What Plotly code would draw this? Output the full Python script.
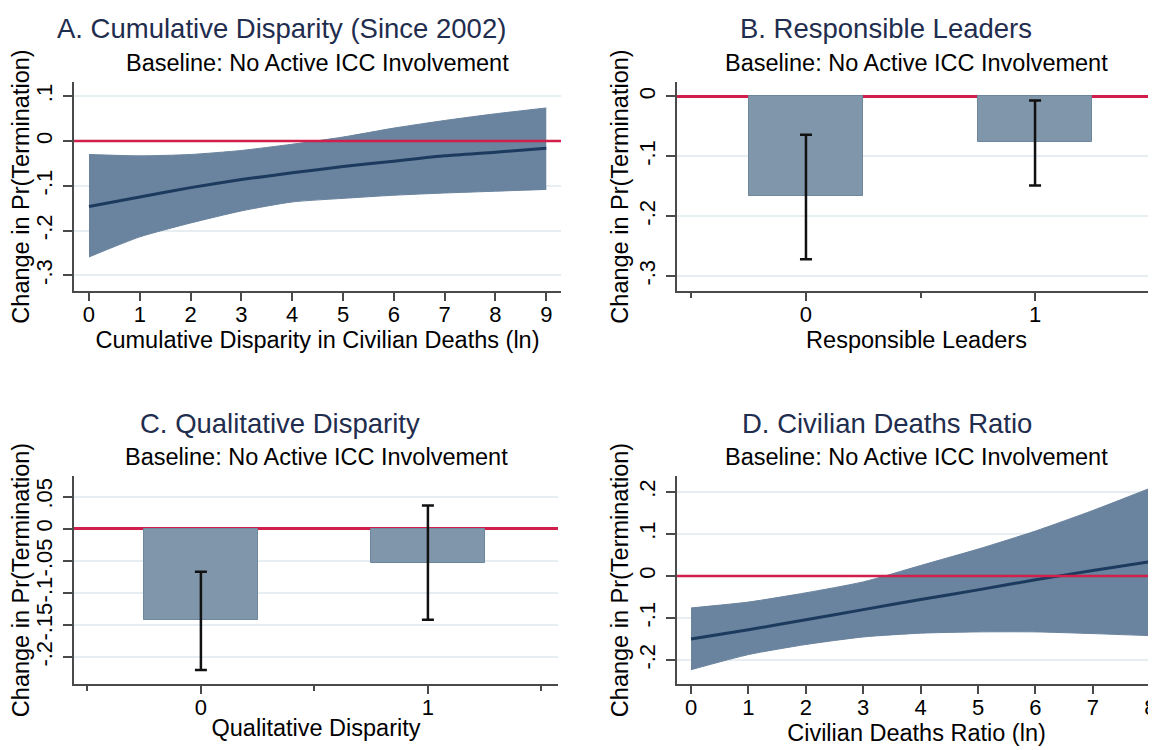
import plotly.graph_objects as go

# ---------------- data ----------------
a_x = [0, 1, 2, 3, 4, 5, 6, 7, 8, 9]
a_mean = [-0.146, -0.125, -0.104, -0.086, -0.071, -0.057, -0.045, -0.033, -0.025, -0.016]
a_upper = [-0.030, -0.033, -0.030, -0.021, -0.007, 0.009, 0.029, 0.046, 0.061, 0.074]
a_lower = [-0.259, -0.214, -0.183, -0.156, -0.136, -0.128, -0.121, -0.116, -0.112, -0.108]

b_cats = [0, 1]
b_vals = [-0.167, -0.076]
b_lo = [-0.272, -0.149]
b_hi = [-0.064, -0.007]

c_cats = [0, 1]
c_vals = [-0.143, -0.053]
c_lo = [-0.220, -0.142]
c_hi = [-0.067, 0.036]

d_x = [0, 1, 2, 3, 4, 5, 6, 7, 8]
d_mean = [-0.150, -0.128, -0.104, -0.080, -0.056, -0.033, -0.009, 0.013, 0.034]
d_upper = [-0.076, -0.062, -0.040, -0.014, 0.025, 0.064, 0.107, 0.156, 0.209]
d_lower = [-0.223, -0.187, -0.163, -0.145, -0.136, -0.133, -0.133, -0.137, -0.142]

a_yt = [-0.3, -0.2, -0.1, 0, 0.1]
a_ylab = ["-.3", "-.2", "-.1", "0", ".1"]
b_yt = [-0.3, -0.2, -0.1, 0]
b_ylab = ["-.3", "-.2", "-.1", "0"]
c_yt = [-0.2, -0.15, -0.1, -0.05, 0, 0.05]
c_ylab = ["-.2", "-.15", "-.1", "-.05", "0", ".05"]
d_yt = [-0.2, -0.1, 0, 0.1, 0.2]
d_ylab = ["-.2", "-.1", "0", ".1", ".2"]

titles = ["A. Cumulative Disparity (Since 2002)", "B. Responsible Leaders",
          "C. Qualitative Disparity", "D. Civilian Deaths Ratio"]
subtitle = "Baseline: No Active ICC Involvement"
xtitles = ["Cumulative Disparity in Civilian Deaths (ln)", "Responsible Leaders",
           "Qualitative Disparity", "Civilian Deaths Ratio (ln)"]
ytitle = "Change in Pr(Termination)"

# ---------------- style ----------------
FONT = "Liberation Sans, Arial, Helvetica, sans-serif"
BAND = "#6a839e"
LINE = "#1b3a5e"
BAR = "#8096ab"
BAR_EDGE = "#6f879c"
ZERO = "#cf1f4a"
GRID = "#e6eef2"
AX = "#4a4a4a"
NAVY = "#1f2d4e"

fig = go.Figure()

def band(xs, lo, hi, mean, xa, ya):
    fig.add_trace(go.Scatter(x=xs, y=lo, mode="lines", line=dict(color=BAND, width=1, shape="spline", smoothing=0.6),
                             xaxis=xa, yaxis=ya, showlegend=False, hoverinfo="skip"))
    fig.add_trace(go.Scatter(x=xs, y=hi, mode="lines", fill="tonexty", fillcolor=BAND,
                             line=dict(color=BAND, width=1, shape="spline", smoothing=0.6),
                             xaxis=xa, yaxis=ya, showlegend=False, hoverinfo="skip"))
    fig.add_trace(go.Scatter(x=xs, y=mean, mode="lines", line=dict(color=LINE, width=3, shape="spline", smoothing=0.6),
                             xaxis=xa, yaxis=ya, showlegend=False))

def bars(cats, vals, lo, hi, xa, ya):
    fig.add_trace(go.Bar(x=cats, y=vals, width=0.5, marker=dict(color=BAR, line=dict(color=BAR_EDGE, width=1)),
                         error_y=dict(type="data", symmetric=False,
                                      array=[h - v for h, v in zip(hi, vals)],
                                      arrayminus=[v - l for l, v in zip(lo, vals)],
                                      color="#111111", thickness=2.5, width=6),
                         xaxis=xa, yaxis=ya, showlegend=False))

band(a_x, a_lower, a_upper, a_mean, "x", "y")
bars(b_cats, b_vals, b_lo, b_hi, "x2", "y2")
bars(c_cats, c_vals, c_lo, c_hi, "x3", "y3")
band(d_x, d_lower, d_upper, d_mean, "x4", "y4")

tickfont = dict(family=FONT, size=22, color="#000000")
titlefont = dict(family=FONT, size=23.5, color="#000000")

def xaxis(domain, rng, anchor, tickvals, ticktext, title, minor=None):
    d = dict(domain=domain, range=rng, anchor=anchor, tickvals=tickvals, ticktext=ticktext,
             showline=True, linecolor=AX, linewidth=2, ticks="outside", ticklen=8, tickwidth=2,
             tickcolor=AX, showgrid=False, zeroline=False, tickfont=tickfont, ticklabelstandoff=-5,
             ticklabeloverflow="allow",
             title=dict(text=title, font=titlefont, standoff=0))
    if minor is not None:
        d["minor"] = dict(tickvals=minor, ticklen=5, tickwidth=2, tickcolor=AX, ticks="outside", showgrid=False)
    return d

def yaxis(domain, rng, anchor, tickvals, ticktext, zl):
    return dict(domain=domain, range=rng, anchor=anchor, tickvals=tickvals, ticktext=ticktext,
                tickangle=-90, showline=True, linecolor=AX, linewidth=2, ticks="outside", ticklen=9,
                tickwidth=2, tickcolor=AX, showgrid=True, gridcolor=GRID, gridwidth=1.5,
                zeroline=zl, zerolinecolor=ZERO, zerolinewidth=2.5, ticklabelstandoff=2,
                tickfont=tickfont, title=dict(text=ytitle, font=titlefont, standoff=0))

# figure is placed 8px in from the page corner, so all positions below are in figure px
W, H = 1148, 742
top = [1 - 283 / H, 1 - 74 / H]
bot = [1 - 676 / H, 1 - 468 / H]
left_a = [66 / W, 553 / W]
left_c = [66 / W, 550 / W]
right = [669 / W, 1.0]

fig.update_layout(
    xaxis=xaxis(left_a, [-0.295, 9.29], "y", a_x, [str(v) for v in a_x], xtitles[0]),
    yaxis=yaxis(top, [-0.335, 0.132], "x", a_yt, a_ylab, False),
    xaxis2=xaxis(right, [-0.563, 1.528], "y2", b_cats, [str(v) for v in b_cats], xtitles[1], [-0.5, 0.5, 1.5]),
    yaxis2=yaxis(top, [-0.325, 0.024], "x2", b_yt, b_ylab, True),
    xaxis3=xaxis(left_c, [-0.559, 1.573], "y3", c_cats, [str(v) for v in c_cats], xtitles[2], [-0.5, 0.5, 1.5]),
    yaxis3=yaxis(bot, [-0.242, 0.082], "x3", c_yt, c_ylab, True),
    xaxis4=xaxis(right, [-0.244, 8.1], "y4", d_x, [str(v) for v in d_x], xtitles[3]),
    yaxis4=yaxis(bot, [-0.257, 0.238], "x4", d_yt, d_ylab, False),
)

# zero reference lines drawn over the confidence bands
for i in ["", "4"]:
    fig.add_shape(type="line", xref=f"x{i} domain", yref=f"y{i}", x0=0, x1=1, y0=0, y1=0,
                  line=dict(color=ZERO, width=2.5), layer="above")

# titles & subtitles
title_pos = [(273 / W, 1 - 21 / H), (878 / W, 1 - 21 / H), (272 / W, 1 - 415 / H), (879 / W, 1 - 415 / H)]
sub_y = [1 - 55 / H, 1 - 55 / H, 1 - 449 / H, 1 - 449 / H]
for k, (t, (tx, ty)) in enumerate(zip(titles, title_pos)):
    fig.add_annotation(text=t, xref="paper", yref="paper", x=tx, y=ty, showarrow=False,
                       xanchor="center", yanchor="middle", font=dict(family=FONT, size=27.5, color=NAVY))
    suffix = "" if k == 0 else str(k + 1)
    fig.add_annotation(text=subtitle, xref=f"x{suffix} domain", yref="paper", x=0.5, y=sub_y[k],
                       showarrow=False, xanchor="center", yanchor="middle",
                       font=dict(family=FONT, size=23.5, color="#000000"))

fig.update_layout(width=W, height=H, margin=dict(l=0, r=0, t=0, b=0),
                  paper_bgcolor="white", plot_bgcolor="white", showlegend=False, bargap=0)

fig.write_html("out.html")
